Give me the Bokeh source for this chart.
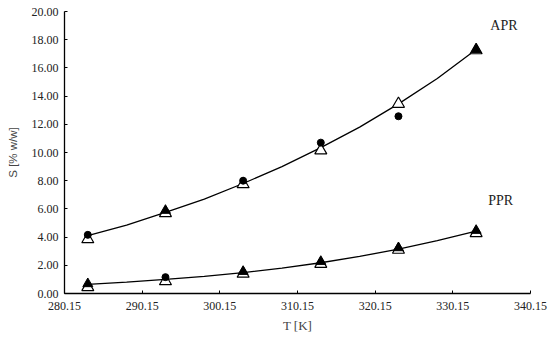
from bokeh.plotting import figure
from bokeh.models import Range1d, FixedTicker, Label
from bokeh.embed import file_html
from bokeh.resources import INLINE

# Experimental temperatures [K]
T = [283.15, 293.15, 303.15, 313.15, 323.15, 333.15]

# APR data
apr_open_tri = [3.85, 5.70, 7.75, 10.15, 13.45, 17.25]
apr_circ_T = [283.15, 303.15, 313.15, 323.15]
apr_circ = [4.16, 8.00, 10.70, 12.57]
apr_tri_T = [293.15, 333.15]
apr_tri = [5.89, 17.30]

# PPR data
ppr_open_tri = [0.45, 0.87, 1.40, 2.10, 3.10, 4.28]
ppr_circ_T = [293.15]
ppr_circ = [1.16]
ppr_tri_T = [283.15, 303.15, 313.15, 323.15, 333.15]
ppr_tri = [0.69, 1.56, 2.27, 3.24, 4.47]

# Fitted curves
T_curve = [283.15, 288.15, 293.15, 298.15, 303.15, 308.15, 313.15, 318.15, 323.15, 328.15, 333.15]
apr_curve = [4.10, 4.85, 5.75, 6.70, 7.80, 9.00, 10.35, 11.80, 13.45, 15.25, 17.30]
ppr_curve = [0.65, 0.80, 1.00, 1.22, 1.48, 1.80, 2.18, 2.63, 3.15, 3.75, 4.42]

x_ticks = [280.15, 290.15, 300.15, 310.15, 320.15, 330.15, 340.15]
y_ticks = [0, 2, 4, 6, 8, 10, 12, 14, 16, 18, 20]

p = figure(frame_width=466, frame_height=282, output_backend="svg", toolbar_location=None,
           x_range=Range1d(280.15, 340.15), y_range=Range1d(0, 20),
           min_border_left=64, min_border_right=18, min_border_top=11, min_border_bottom=41)
p.outline_line_color = None
p.grid.visible = False
p.background_fill_color = "white"
p.border_fill_color = "white"

serif = "Liberation Serif"
for ax in (p.xaxis[0], p.yaxis[0]):
    ax.axis_line_color = "black"
    ax.axis_line_width = 1.3
    ax.major_tick_in = 3
    ax.major_tick_out = 0
    ax.minor_tick_line_color = None
    ax.major_label_text_font = serif
    ax.major_label_text_font_size = "12px"
    ax.major_label_text_color = "#222222"
    ax.axis_label_text_font_style = "normal"

p.xaxis[0].ticker = FixedTicker(ticks=x_ticks)
p.xaxis[0].major_label_overrides = {t: f"{t:.2f}" for t in x_ticks}
p.xaxis[0].major_label_standoff = 8
p.xaxis[0].axis_label = "T [K]"
p.xaxis[0].axis_label_text_font = serif
p.xaxis[0].axis_label_text_font_size = "13px"
p.xaxis[0].axis_label_standoff = 5

p.yaxis[0].ticker = FixedTicker(ticks=y_ticks)
p.yaxis[0].major_label_overrides = {t: f"{t:.2f}" for t in y_ticks}
p.yaxis[0].major_label_standoff = 6
p.yaxis[0].axis_label = "S [% w/w]"
p.yaxis[0].axis_label_text_font = "Liberation Sans"
p.yaxis[0].axis_label_text_font_size = "11.5px"
p.yaxis[0].axis_label_standoff = 10

for curve in (apr_curve, ppr_curve):
    p.line(T_curve, curve, line_color="black", line_width=1.3)

for opens in (apr_open_tri, ppr_open_tri):
    p.scatter(T, opens, marker="triangle", size=12, fill_color="white",
              line_color="black", line_width=1.2)
for tt, vv in ((apr_tri_T, apr_tri), (ppr_tri_T, ppr_tri)):
    p.scatter(tt, vv, marker="triangle", size=10, fill_color="black", line_color="black")
for tt, vv in ((apr_circ_T, apr_circ), (ppr_circ_T, ppr_circ)):
    p.scatter(tt, vv, marker="circle", size=7, fill_color="black", line_color="black")

p.add_layout(Label(x=334.98, y=18.5, text="APR", text_font=serif,
                   text_font_size="14px", text_color="#222222"))
p.add_layout(Label(x=334.7, y=6.05, text="PPR", text_font=serif,
                   text_font_size="14px", text_color="#222222"))

open("out.html", "w").write(file_html(p, INLINE))
